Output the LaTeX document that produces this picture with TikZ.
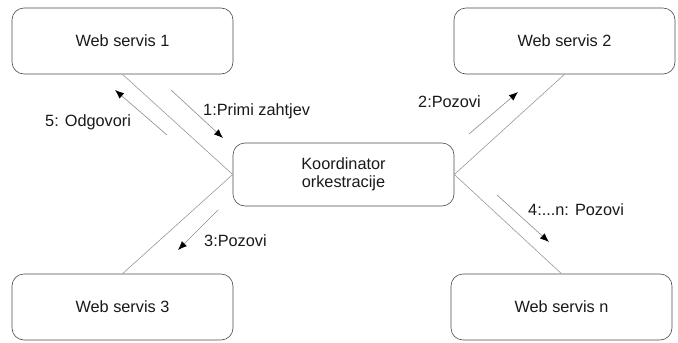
\documentclass[tikz,border=0pt]{standalone}
\usepackage{fontspec}
\setmainfont{Liberation Sans}
\usetikzlibrary{arrows.meta}
\begin{document}
\begin{tikzpicture}[x=1pt,y=-1pt,
  box/.style={draw=black!70,line width=0.6pt,rounded corners=12pt,inner sep=0pt},
  conn/.style={draw=black!40,line width=0.6pt},
  msg/.style={draw=black!45,line width=0.6pt,-{Latex[black,length=9pt,width=7pt]}},
  lbl/.style={inner sep=0pt},
  every node/.style={font=\fontsize{16.3}{19}\selectfont,text=black!90}]
\useasboundingbox (0,0) rectangle (678,343);
\node[box,minimum width=221pt,minimum height=66pt] (ws1) at (122.5,41) {Web servis 1};
\node[box,minimum width=221pt,minimum height=66pt] (ws2) at (564.5,41) {Web servis 2};
\node[box,minimum width=221pt,minimum height=63pt,align=center] (co) at (343.5,174.5) {Koordinator\\[-1pt]orkestracije};
\node[box,minimum width=221pt,minimum height=66pt] (ws3) at (122.5,307) {Web servis 3};
\node[box,minimum width=221pt,minimum height=66pt] (wsn) at (561.5,307) {Web servis n};
\draw[conn] (ws1.south) -- (co.west);
\draw[conn] (ws3.north) -- (co.west);
\draw[conn] (ws2.south) -- (co.east);
\draw[conn] (wsn.north) -- (co.east);
\coordinate (a1s) at (171,90); \coordinate (a1e) at (223,138);
\coordinate (a5s) at (167,135); \coordinate (a5e) at (115,90);
\coordinate (a2s) at (469,134); \coordinate (a2e) at (518,92);
\coordinate (a3s) at (218,210); \coordinate (a3e) at (178,250);
\coordinate (a4s) at (497,195); \coordinate (a4e) at (549,242);
\draw[msg] (a1s) -- (a1e);
\draw[msg] (a5s) -- (a5e);
\draw[msg] (a2s) -- (a2e);
\draw[msg] (a3s) -- (a3e);
\draw[msg] (a4s) -- (a4e);
\node[lbl,anchor=west] (l1) at (203,111) {1:Primi zahtjev};
\node[lbl,anchor=west] (l5) at (45,122) {5: Odgovori};
\node[lbl,anchor=west] (l2) at (418,102) {2:Pozovi};
\node[lbl,anchor=west] (l3) at (204,241) {3:Pozovi};
\node[lbl,anchor=west] (l4) at (528,210) {4:...n: Pozovi};
\end{tikzpicture}
\end{document}
